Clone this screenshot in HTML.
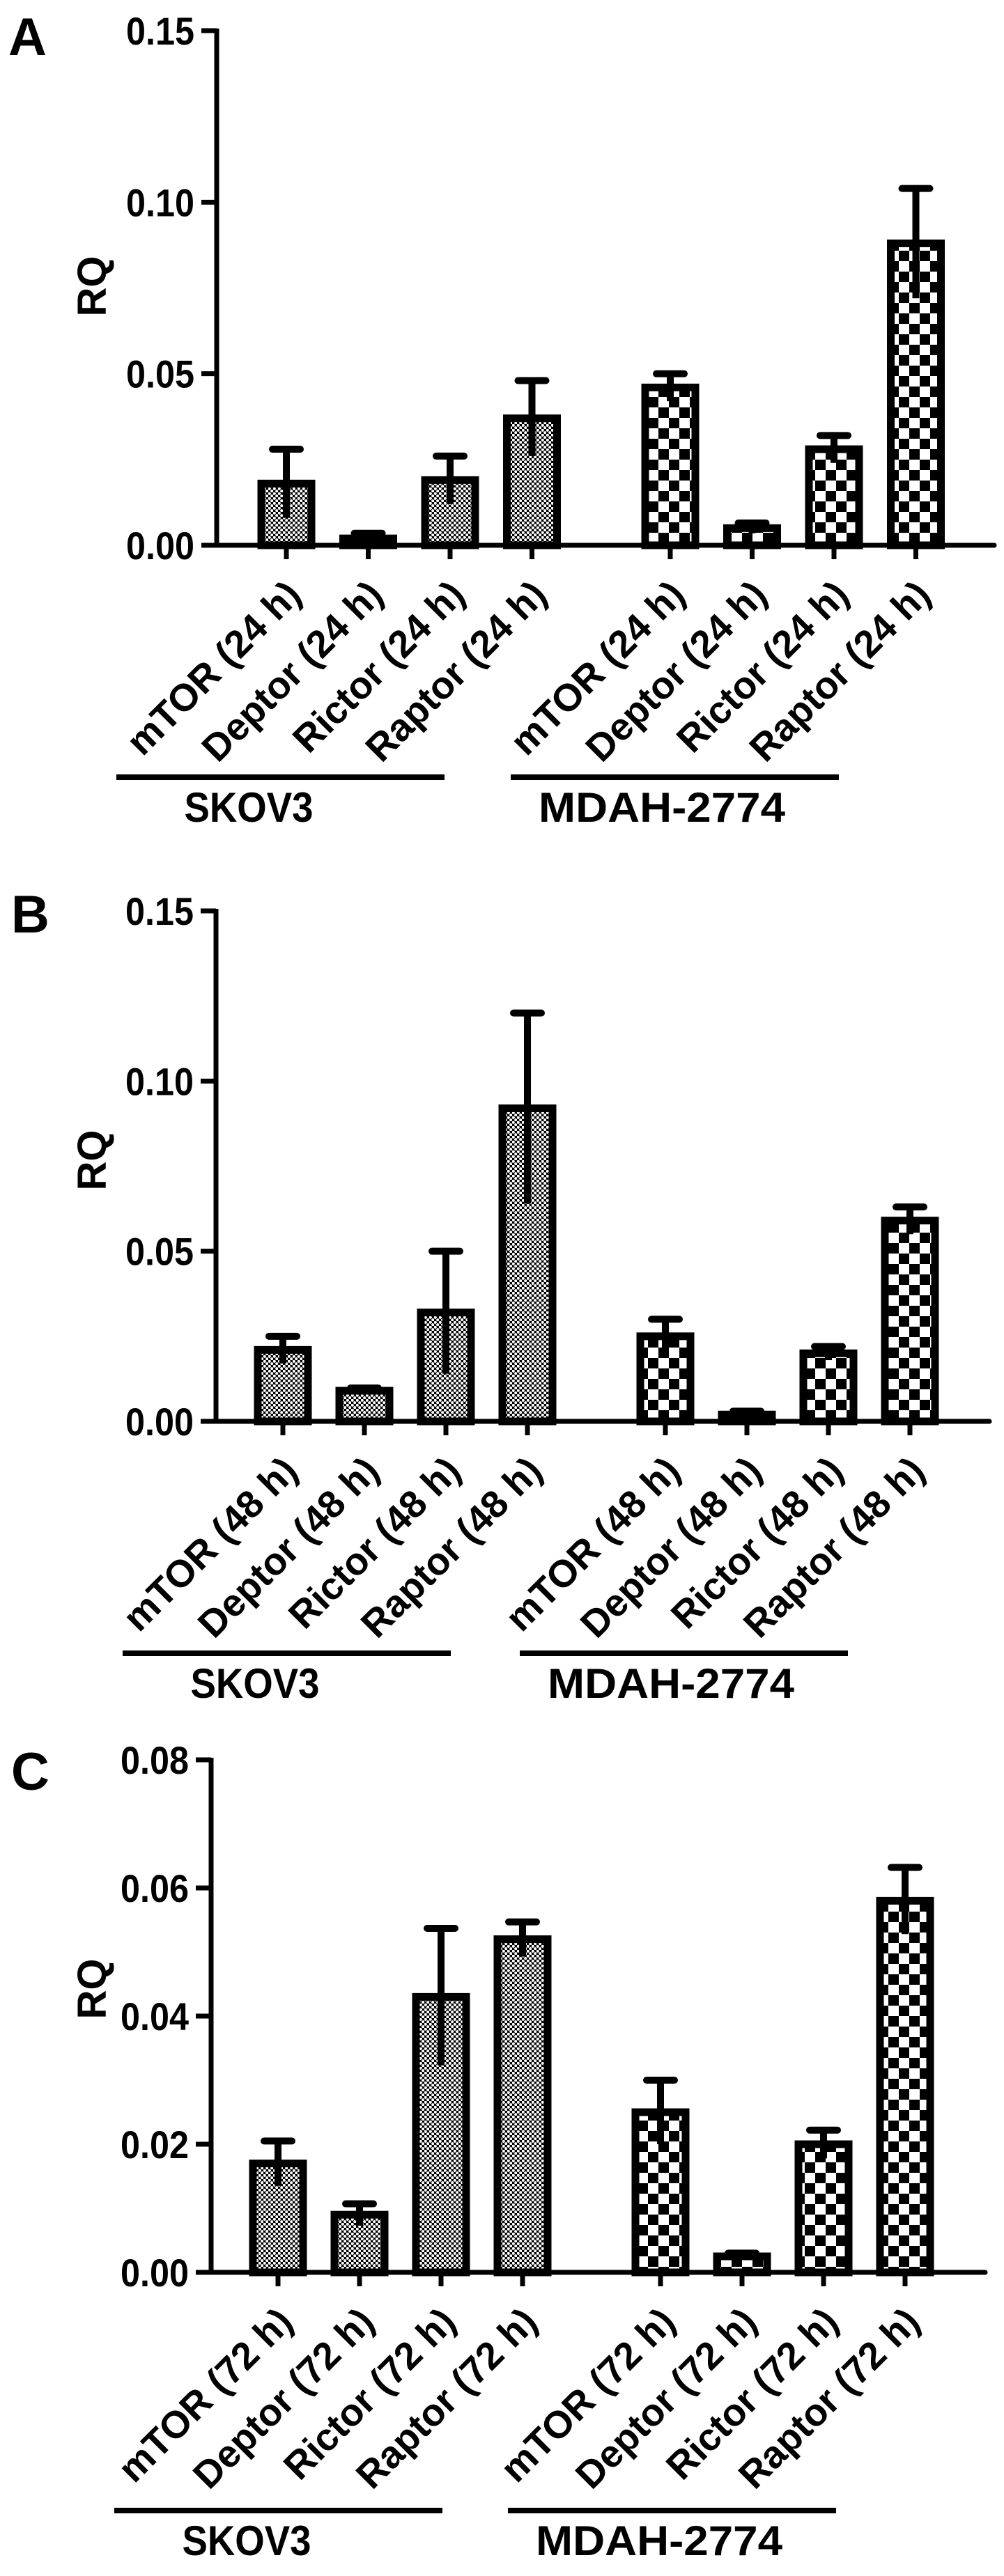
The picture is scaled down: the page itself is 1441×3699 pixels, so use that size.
<!DOCTYPE html>
<html><head><meta charset="utf-8"><style>
html,body{margin:0;padding:0;background:#fff;}
svg{display:block;}
text{font-family:"Liberation Sans",Arial,sans-serif;font-weight:bold;fill:#000;}
</style></head><body>
<svg id="fig" width="1441" height="3699" viewBox="0 0 1441 3699" xmlns="http://www.w3.org/2000/svg">
<defs>
<pattern id="dots" patternUnits="userSpaceOnUse" width="7" height="7">
<rect width="7" height="7" fill="#000"/>
<circle cx="1.75" cy="1.75" r="2.1" fill="#fff"/>
<circle cx="5.25" cy="5.25" r="2.1" fill="#fff"/>
</pattern>
<pattern id="checks" patternUnits="userSpaceOnUse" width="30" height="30">
<rect width="30" height="30" fill="#fff"/>
<rect width="15" height="15" fill="#000"/>
<rect x="15" y="15" width="15" height="15" fill="#000"/>
</pattern>
</defs>
</svg>
<script>
const genes = ["mTOR","Deptor","Rictor","Raptor"];
const cellLines = ["SKOV3","MDAH-2774"];
const timesA = "24 h", timesB = "48 h", timesC = "72 h";
const valuesA = [0.018,0.002,0.019,0.037, 0.046,0.005,0.028,0.088];
const errorsA = [0.010,0.0015,0.007,0.011, 0.004,0.0015,0.004,0.016];
const valuesB = [0.021,0.009,0.032,0.092, 0.025,0.002,0.020,0.059];
const errorsB = [0.004,0.0008,0.018,0.028, 0.005,0.001,0.002,0.004];
const valuesC = [0.017,0.009,0.043,0.052, 0.025,0.0025,0.020,0.058];
const errorsC = [0.0035,0.0017,0.0107,0.0027, 0.005,0.0005,0.0022,0.0052];
const ticksAB = [0,0.05,0.10,0.15];
const tickLabelsAB = ["0.00","0.05","0.10","0.15"];
const ticksC = [0,0.02,0.04,0.06,0.08];
const tickLabelsC = ["0.00","0.02","0.04","0.06","0.08"];

const NS="http://www.w3.org/2000/svg";
const svg=document.getElementById('fig');
function mk(tag,attrs,parent){const e=document.createElementNS(NS,tag);for(const k in attrs)e.setAttribute(k,attrs[k]);(parent||svg).appendChild(e);return e;}

function panel(p){
  const g=mk('g',{});
  
  
  const yS=v=>p.base-(v/p.ymax)*(p.base-p.top);
  const xS=i=>p.c0+i*p.step+(i>=4?p.gap:0);
  const L=mk('text',{x:p.lx,y:p.ly,'font-size':76},g);L.textContent=p.letter;
  
  
  p.values.forEach((v,i)=>{
    const cx=xS(i), bw=72;
    const r=mk('rect',{x:cx-bw/2,y:yS(v),width:bw,height:p.base-yS(v),fill:i<4?'url(#dots)':'url(#checks)',stroke:'#000','stroke-width':11},g);
    
    
    const e=p.errors[i];
    const el=mk('line',{x1:cx,x2:cx,y1:yS(Math.max(0,v-e)),y2:yS(v+e),stroke:'#000','stroke-width':10},g);
    
    
    const cap=mk('line',{x1:cx-20,x2:cx+20,y1:yS(v+e),y2:yS(v+e),stroke:'#000','stroke-width':10,'stroke-linecap':'round'},g);
    
    
    mk('line',{x1:cx,x2:cx,y1:p.base,y2:p.base+20,stroke:'#000','stroke-width':7},g);
    const t=mk('text',{x:0,y:0,'font-size':55,'text-anchor':'end',transform:`translate(${cx+24},${p.base+74}) rotate(-45)`},g);
    t.textContent=genes[i%4]+' ('+p.time+')';
    
    
  });
  const ya=mk('line',{x1:p.ax,x2:p.ax,y1:p.top-3,y2:p.base+3,stroke:'#000','stroke-width':7},g);
  
  
  const xa=mk('line',{x1:p.ax,x2:p.right,y1:p.base,y2:p.base,stroke:'#000','stroke-width':7,'stroke-linecap':'round'},g);
  
  
  p.ticks.forEach((tv,j)=>{
    mk('line',{x1:p.ax-22,x2:p.ax,y1:yS(tv),y2:yS(tv),stroke:'#000','stroke-width':7},g);
    const t=mk('text',{x:p.ax-32,y:yS(tv)+20,'font-size':56,'text-anchor':'end',textLength:98,lengthAdjust:'spacingAndGlyphs'},g);
    t.textContent=p.tickLabels[j];
    
    
  });
  const rq=mk('text',{x:0,y:0,'font-size':58,'text-anchor':'middle',transform:`translate(152,${p.rqy}) rotate(-90)`},g);
  rq.textContent='RQ';
  
  
  const groups=[{x:p.g1,off:190,w:185},{x:p.g2,off:217,w:354}];
  groups.forEach((gg,k)=>{
    const ln=mk('line',{x1:gg.x,x2:gg.x+471,y1:p.gy,y2:p.gy,stroke:'#000','stroke-width':8},g);
    
    
    const t=mk('text',{x:gg.x+gg.off,y:p.gy+64,'font-size':60,'text-anchor':'middle',textLength:gg.w,lengthAdjust:'spacingAndGlyphs'},g);
    t.textContent=cellLines[k];
    
    
  });
}
panel({letter:'A',lx:12,ly:79,ax:311,top:44,base:783,right:1427,ymax:0.15,c0:411,step:117.5,gap:81,values:valuesA,errors:errorsA,ticks:ticksAB,tickLabels:tickLabelsAB,time:timesA,rqy:411,g1:167,g2:733,gy:1116});
panel({letter:'B',lx:16,ly:1339,ax:310,top:1308,base:2041,right:1420,ymax:0.15,c0:406,step:117,gap:81,values:valuesB,errors:errorsB,ticks:ticksAB,tickLabels:tickLabelsAB,time:timesB,rqy:1666,g1:176,g2:746,gy:2374});
panel({letter:'C',lx:16,ly:2570,ax:303,top:2527,base:3263,right:1414,ymax:0.08,c0:399,step:117,gap:81,values:valuesC,errors:errorsC,ticks:ticksC,tickLabels:tickLabelsC,time:timesC,rqy:2856,g1:164,g2:729,gy:3605});
</script>
</body></html>
